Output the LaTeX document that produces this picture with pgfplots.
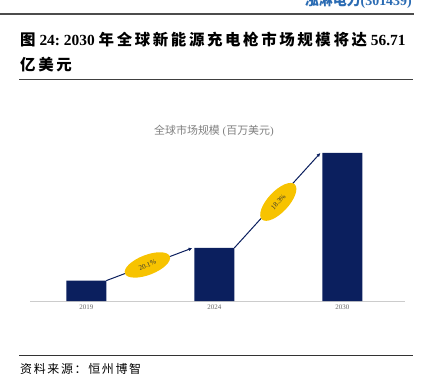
\documentclass[border=0pt]{standalone}
\usepackage{pgfplots}
\pgfplotsset{compat=1.18}
\usepackage{fontspec}
\setmainfont{Liberation Serif}
\newfontfamily\cjk{Noto Sans CJK SC}
\newfontfamily\cjks[LetterSpace=14]{Noto Sans CJK SC}
\newfontfamily\cjkt[LetterSpace=17]{Noto Sans CJK SC}
\usetikzlibrary{shapes.geometric,arrows.meta}
\definecolor{navy}{HTML}{0B1F5E}
\definecolor{gold}{HTML}{F7C300}
\definecolor{hdrblue}{HTML}{2A6BB3}
\newcommand\C[1]{{\cjkt\bfseries #1}}
\begin{document}
\begin{tikzpicture}
\path[use as bounding box] (0,0) rectangle (426bp,-385bp);
\draw[line width=1.6bp, black!70] (0,-14bp) -- (414bp,-14bp);
\node[anchor=base east, text=hdrblue, font=\bfseries\fontsize{14}{14}\selectfont, inner sep=0] at (412bp,-5bp) {{\cjk\bfseries 泓淋电力}(301439)};
\node[anchor=base west, inner sep=0, font=\bfseries\fontsize{15.5}{15.5}\selectfont] at (20bp,-45bp) {\C{图} 24:\ 2030 \C{年全球新能源充电枪市场规模将达} 56.71};
\node[anchor=base west, inner sep=0, font=\bfseries\fontsize{15.5}{15.5}\selectfont] at (20bp,-70bp) {\C{亿美元}};
\draw[line width=0.9bp, black!75] (19bp,-79bp) -- (413bp,-79bp);
\node[text=black!50, font=\fontsize{11}{11}\selectfont] at (214bp,-131bp) {{\cjk 全球市场规模} ({\cjk 百万美元})};
\begin{axis}[at={(30bp,-301bp)}, anchor=south west, scale only axis,
  width=375bp, height=162bp, xmin=-0.44, xmax=2.49, ymin=0, ymax=6200,
  hide y axis, axis x line*=bottom, x axis line style={draw=black!20, -},
  xtick={0,1,2}, xticklabels={2019,2024,2030}, major tick length=0,
  xticklabel style={font=\fontsize{7}{7}\selectfont, text=black!60},
  ybar, bar width=40bp, clip=false]
\addplot[fill=navy, draw=none] coordinates {(0,780) (1,2030) (2,5671)};
\draw[-{Latex[length=4bp,width=3.5bp]}, navy, line width=1bp] (axis cs:0.156,780) -- (axis cs:0.83,2030);
\draw[-{Latex[length=4bp,width=3.5bp]}, navy, line width=1bp] (axis cs:1.156,2030) -- (axis cs:1.83,5671);
\node[ellipse, fill=gold, minimum width=48bp, minimum height=20bp, inner sep=0, rotate=21, font=\fontsize{7}{7}\selectfont, text=black!80] at (axis cs:0.477,1380) {20.1\%};
\node[ellipse, fill=gold, minimum width=48bp, minimum height=21bp, inner sep=0, rotate=47, font=\fontsize{7}{7}\selectfont, text=black!80] at (axis cs:1.5,3794) {18.3\%};
\end{axis}
\draw[line width=0.9bp, black!80] (19bp,-355bp) -- (413bp,-355bp);
\node[anchor=base west, inner sep=0, font=\fontsize{12}{12}\selectfont] at (20bp,-373bp) {\cjks 资料来源：恒州博智};
\end{tikzpicture}
\end{document}
